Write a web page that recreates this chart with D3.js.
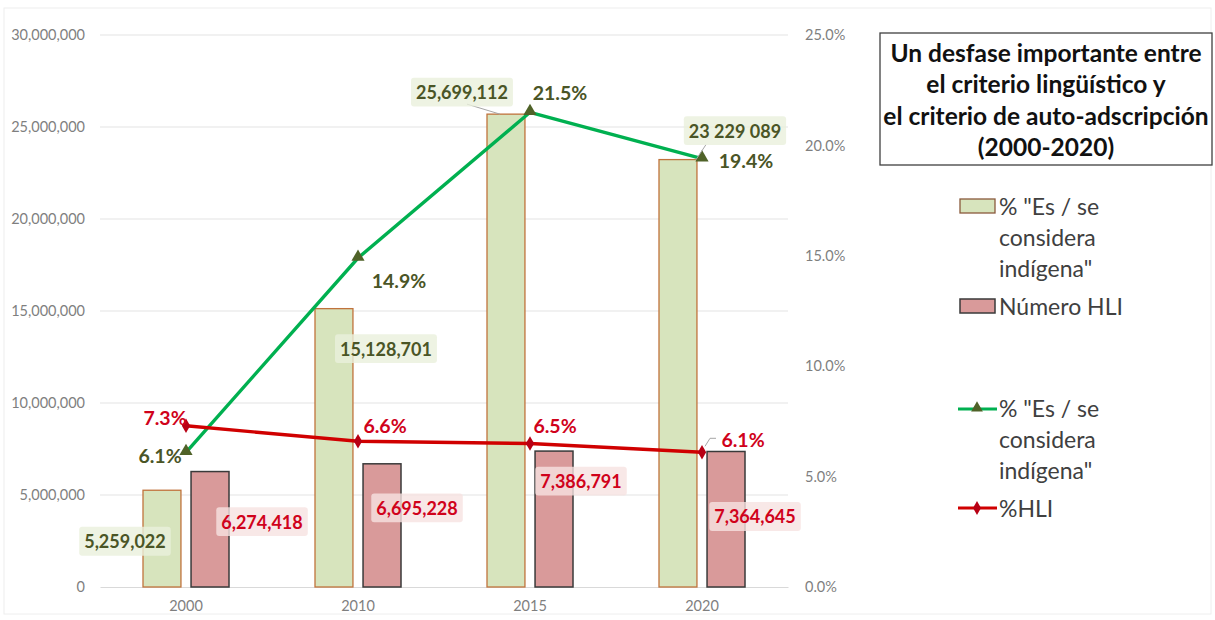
<!DOCTYPE html>
<html><head><meta charset="utf-8">
<script src="https://cdn.jsdelivr.net/npm/d3@7"></script>
<style>
html,body{margin:0;padding:0;background:#fff;}
svg{display:block;font-family:Lato, "Open Sans", sans-serif;}
</style></head>
<body><svg id="chart" width="1215" height="620"></svg>
<script>
// ---- data ----
const years = ["2000", "2010", "2015", "2020"];
const autoAdscripcion = [5259022, 15128701, 25699112, 23229089];
const numeroHLI = [6274418, 6695228, 7386791, 7364645];
const pctAuto = [6.1, 14.9, 21.5, 19.4];
const pctHLI = [7.3, 6.6, 6.5, 6.1];
const autoLabels = ["5,259,022", "15,128,701", "25,699,112", "23 229 089"];
const hliLabels = ["6,274,418", "6,695,228", "7,386,791", "7,364,645"];
const leftTicks = [0, 5000000, 10000000, 15000000, 20000000, 25000000, 30000000];
const rightTicks = [0, 5, 10, 15, 20, 25];
const titleLines = ["Un desfase importante entre", "el criterio lingüístico y", "el criterio de auto-adscripción", "(2000-2020)"];
const legendBarAuto = ["% \"Es / se", "considera", "indígena\""];
const legendBarHLI = ["Número HLI"];
const legendLineAuto = ["% \"Es / se", "considera", "indígena\""];
const legendLineHLI = ["%HLI"];

// label offsets (layout only)
const autoOff = [[-37, 51], [52, 40], [-44, -22], [57, -29]];
const hliOff = [[52, 50], [35, 44], [27, 30], [29, 65]];
const pAutoOff = [[-26, 3], [41, 22], [30, -20], [44, 2]];
const pHliOff = [[-21, -8], [27, -16], [25, -18], [41, -13]];

const svg = d3.select("#chart");
const W = 1215, H = 620;
const plotL = 100, plotR = 788, plotT = 35, plotB = 587;

svg.append("rect").attr("x", 4).attr("y", 8).attr("width", W - 8).attr("height", H - 14)
  .attr("fill", "none").attr("stroke", "#eeeeee");

const x0 = d3.scaleBand().domain(years).range([plotL, plotR]).paddingInner(0.5).paddingOuter(0.25);
const x1 = d3.scaleBand().domain(["auto", "hli"]).range([0, x0.bandwidth()]).paddingInner(0.21);
const yL = d3.scaleLinear().domain([0, 30000000]).range([plotB, plotT]);
const yR = d3.scaleLinear().domain([0, 25]).range([plotB, plotT]);
const cx = d => x0(d) + x0.bandwidth() / 2;

// gridlines
svg.append("g").selectAll("line").data(leftTicks.slice(1)).join("line")
  .attr("x1", plotL).attr("x2", plotR).attr("y1", d => yL(d)).attr("y2", d => yL(d))
  .attr("stroke", "#e3e3e3").attr("stroke-width", 1);

const tickFont = "14.5px";
// left axis
const axL = svg.append("g").attr("transform", `translate(${plotL - 15},0)`)
  .call(d3.axisLeft(yL).tickValues(leftTicks).tickFormat(d3.format(",")).tickSize(0).tickPadding(0));
axL.select(".domain").remove();
axL.selectAll("text").attr("fill", "#7f7f7f").style("font-size", tickFont).style("font-family", "Lato, sans-serif");

// right axis
const axR = svg.append("g").attr("transform", `translate(${plotR + 17},0)`)
  .call(d3.axisRight(yR).tickValues(rightTicks).tickFormat(d => d.toFixed(1) + "%").tickSize(0).tickPadding(0));
axR.select(".domain").remove();
axR.selectAll("text").attr("fill", "#7f7f7f").style("font-size", tickFont).style("font-family", "Lato, sans-serif");

// bottom axis
const axB = svg.append("g").attr("transform", `translate(0,${plotB})`)
  .call(d3.axisBottom(x0).tickSize(0).tickPadding(14));
axB.select(".domain").attr("stroke", "#d9d9d9");
axB.selectAll("text").attr("fill", "#7f7f7f").style("font-size", tickFont).style("font-family", "Lato, sans-serif");

// bars
const gBars = svg.append("g");
gBars.selectAll("rect.auto").data(years).join("rect").attr("class", "auto")
  .attr("x", (d) => x0(d) + x1("auto")).attr("width", x1.bandwidth())
  .attr("y", (d, i) => yL(autoAdscripcion[i])).attr("height", (d, i) => plotB - yL(autoAdscripcion[i]))
  .attr("fill", "#d7e4bd").attr("stroke", "#c0733c").attr("stroke-width", 1.3);
gBars.selectAll("rect.hli").data(years).join("rect").attr("class", "hli")
  .attr("x", (d) => x0(d) + x1("hli")).attr("width", x1.bandwidth())
  .attr("y", (d, i) => yL(numeroHLI[i])).attr("height", (d, i) => plotB - yL(numeroHLI[i]))
  .attr("fill", "#d99a9a").attr("stroke", "#3a3a3a").attr("stroke-width", 1.5);

// lines
const lineGen = d3.line().x((d, i) => cx(years[i])).y(d => yR(d));
svg.append("path").datum(pctAuto).attr("d", lineGen).attr("fill", "none")
  .attr("stroke", "#00b050").attr("stroke-width", 3.4);
svg.append("path").datum(pctHLI).attr("d", lineGen).attr("fill", "none")
  .attr("stroke", "#d00000").attr("stroke-width", 3.4);

const tri = d3.symbol().type(d3.symbolTriangle).size(75);
const dia = d3.symbol().type(d3.symbolDiamond).size(60);
svg.append("g").selectAll("path").data(pctAuto).join("path")
  .attr("d", tri).attr("transform", (d, i) => `translate(${cx(years[i])},${yR(d) - 1})`)
  .attr("fill", "#4f6228");
svg.append("g").selectAll("path").data(pctHLI).join("path")
  .attr("d", dia).attr("transform", (d, i) => `translate(${cx(years[i])},${yR(d)})`)
  .attr("fill", "#b80014");

// leader lines
const leaders = svg.append("g").attr("stroke", "#a6a6a6").attr("stroke-width", 1).attr("fill", "none");
leaders.append("line")
  .attr("x1", x0("2015") + x1("auto") + x1.bandwidth() / 2 + autoOff[2][0] + 5).attr("y1", yL(autoAdscripcion[2]) + autoOff[2][1] + 12)
  .attr("x2", x0("2015") + x1("auto") + x1.bandwidth() / 2 - 6).attr("y2", yL(autoAdscripcion[2]));
leaders.append("line")
  .attr("x1", cx("2020") + 4).attr("y1", yL(autoAdscripcion[3]) + autoOff[3][1] + 14)
  .attr("x2", cx("2020") - 6).attr("y2", yR(pctAuto[3]) + 1);
leaders.append("path")
  .attr("d", `M${cx("2020") + 3},${yR(pctHLI[3]) - 6} L${cx("2020") + 8},${yR(pctHLI[3]) - 14} L${cx("2020") + 14},${yR(pctHLI[3]) - 14}`);

// data labels
function label(g, x, y, txt, color, bg, size) {
  const t = g.append("text").attr("x", x).attr("y", y).attr("text-anchor", "middle")
    .attr("dominant-baseline", "central").attr("fill", color)
    .style("font-size", size + "px").style("font-weight", "bold").text(txt);
  if (bg) {
    const w = t.node().getComputedTextLength();
    g.insert("rect", "text").attr("x", x - w / 2 - 5).attr("y", y - size * 0.8).attr("width", w + 10)
      .attr("height", size * 1.6).attr("fill", bg).attr("opacity", 0.8).attr("rx", 3);
  }
}
const gl = svg.append("g");
years.forEach((yr, i) => {
  const bxA = x0(yr) + x1("auto") + x1.bandwidth() / 2;
  label(gl.append("g"), bxA + autoOff[i][0], yL(autoAdscripcion[i]) + autoOff[i][1], autoLabels[i], "#4a5526", "#eaf0dc", 18);
  const bxH = x0(yr) + x1("hli") + x1.bandwidth() / 2;
  label(gl.append("g"), bxH + hliOff[i][0], yL(numeroHLI[i]) + hliOff[i][1], hliLabels[i], "#d0021b", "#f6e2e1", 18);
  label(gl.append("g"), cx(yr) + pAutoOff[i][0], yR(pctAuto[i]) + pAutoOff[i][1], pctAuto[i].toFixed(1) + "%", "#4a5526", null, 19.5);
  label(gl.append("g"), cx(yr) + pHliOff[i][0], yR(pctHLI[i]) + pHliOff[i][1], pctHLI[i].toFixed(1) + "%", "#d0021b", null, 19.5);
});

// title box
const tb = svg.append("g");
tb.append("rect").attr("x", 880).attr("y", 33).attr("width", 332).attr("height", 132)
  .attr("fill", "#fff").attr("stroke", "#404040").attr("stroke-width", 1.3);
tb.selectAll("text").data(titleLines).join("text")
  .attr("x", 1046).attr("y", (d, i) => 62 + i * 31.3).attr("text-anchor", "middle")
  .attr("fill", "#111").style("font-size", "24.5px").style("font-weight", "bold").text(d => d);

// legend
const lg = svg.append("g").attr("fill", "#404040").style("font-size", "23px");
lg.append("rect").attr("x", 960).attr("y", 199).attr("width", 35).attr("height", 14)
  .attr("fill", "#d7e4bd").attr("stroke", "#8a5a3c").attr("stroke-width", 1.3);
lg.selectAll("text.a").data(legendBarAuto).join("text").attr("class", "a")
  .attr("x", 999).attr("y", (d, i) => 215 + i * 31).attr("fill", "#404040").text(d => d);
lg.append("rect").attr("x", 960).attr("y", 299).attr("width", 35).attr("height", 14)
  .attr("fill", "#d99a9a").attr("stroke", "#3a3a3a").attr("stroke-width", 1.5);
lg.selectAll("text.b").data(legendBarHLI).join("text").attr("class", "b")
  .attr("x", 999).attr("y", 315).attr("fill", "#404040").text(d => d);

lg.append("line").attr("x1", 958).attr("x2", 997).attr("y1", 409).attr("y2", 409)
  .attr("stroke", "#00b050").attr("stroke-width", 3);
lg.append("path").attr("d", d3.symbol().type(d3.symbolTriangle).size(60))
  .attr("transform", "translate(977,408)").attr("fill", "#4f6228");
lg.selectAll("text.c").data(legendLineAuto).join("text").attr("class", "c")
  .attr("x", 999).attr("y", (d, i) => 417 + i * 31).attr("fill", "#404040").text(d => d);
lg.append("line").attr("x1", 958).attr("x2", 997).attr("y1", 508).attr("y2", 508)
  .attr("stroke", "#d00000").attr("stroke-width", 3);
lg.append("path").attr("d", d3.symbol().type(d3.symbolDiamond).size(55))
  .attr("transform", "translate(977,508)").attr("fill", "#b80014");
lg.selectAll("text.d").data(legendLineHLI).join("text").attr("class", "d")
  .attr("x", 999).attr("y", 517).attr("fill", "#404040").text(d => d);
</script>
</body></html>
